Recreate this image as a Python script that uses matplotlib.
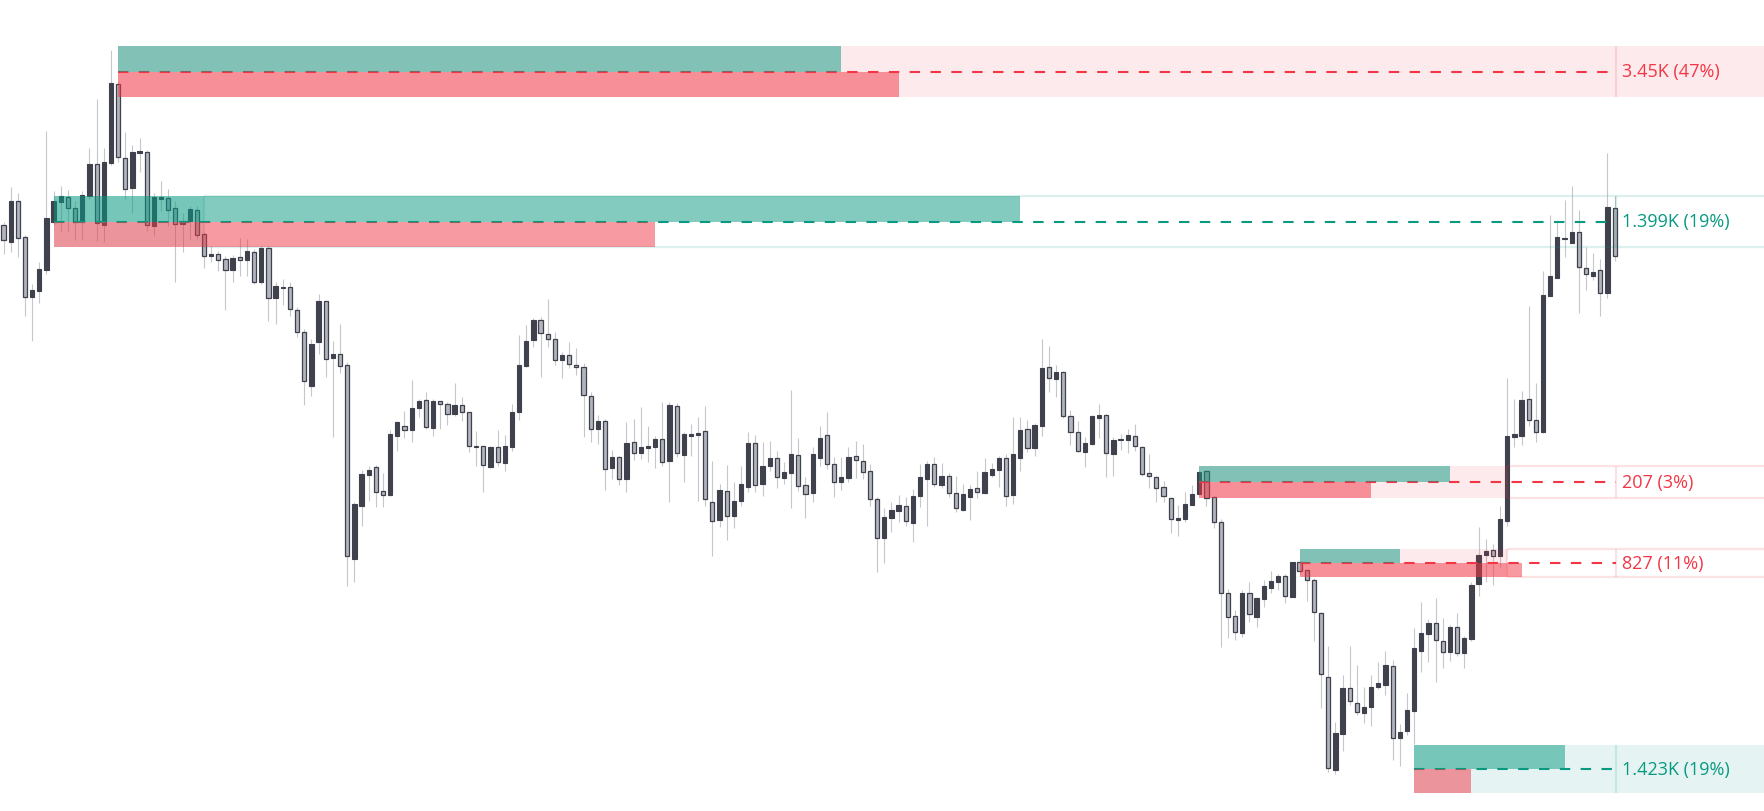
import matplotlib
matplotlib.use("Agg")
import matplotlib.pyplot as plt
from matplotlib.patches import Rectangle
import numpy as np

# candle data (price units)
opens = [586, 569, 610, 574, 514, 520, 541, 589, 609, 614, 603, 589, 615, 647, 586, 648, 727, 653, 623, 658,
         659, 585, 612, 613, 603, 587, 590, 601, 577, 555, 557, 552, 541, 554, 551, 559, 529, 563, 513, 523,
         524, 501, 479, 425, 469, 510, 453, 457, 446, 252, 305, 336, 344, 320, 316, 375, 385, 381, 403, 411,
         383, 410, 407, 397, 406, 399, 364, 365, 344, 364, 348, 364, 399, 445, 471, 491, 477, 472, 451, 456,
         446, 444, 415, 382, 390, 343, 354, 332, 369, 358, 363, 364, 372, 350, 405, 356, 375, 376, 380, 309,
         291, 320, 295, 310, 324, 368, 327, 345, 353, 333, 338, 356, 326, 318, 353, 376, 347, 329, 333, 355,
         350, 340, 312, 273, 293, 300, 305, 288, 315, 332, 347, 326, 335, 318, 301, 314, 323, 318, 336, 341,
         353, 316, 353, 382, 363, 385, 444, 432, 439, 395, 379, 359, 367, 393, 396, 357, 371, 371, 375, 364,
         338, 334, 324, 313, 291, 292, 306, 317, 340, 314, 289, 218, 195, 178, 218, 194, 212, 223, 229, 235,
         214, 249, 241, 231, 198, 134, 41, 77, 123, 108, 98, 104, 124, 126, 145, 73, 80, 100, 160, 177,
         188, 170, 159, 184, 158, 172, 227, 256, 261, 255, 290, 374, 375, 412, 391, 379, 515, 533, 572, 568,
         579, 543, 535, 541, 518, 603]
highs = [589, 624, 618, 576, 527, 549, 680, 620, 625, 621, 610, 620, 663, 712, 663, 761, 729, 679, 666, 673,
         661, 618, 630, 622, 610, 598, 605, 605, 579, 565, 560, 555, 556, 573, 572, 562, 565, 565, 529, 532,
         529, 504, 482, 472, 517, 510, 470, 487, 449, 309, 341, 345, 346, 338, 381, 390, 400, 431, 412, 419,
         412, 410, 409, 428, 414, 399, 380, 365, 365, 381, 376, 407, 476, 486, 493, 494, 512, 479, 459, 469,
         463, 448, 419, 396, 392, 361, 355, 389, 392, 404, 385, 375, 409, 409, 408, 379, 387, 394, 405, 350,
         327, 346, 329, 345, 379, 376, 369, 370, 360, 349, 421, 373, 334, 364, 385, 399, 354, 354, 364, 370,
         367, 347, 314, 303, 309, 316, 314, 322, 347, 350, 354, 348, 338, 335, 327, 326, 340, 353, 348, 355,
         357, 394, 394, 391, 388, 472, 465, 446, 440, 401, 390, 374, 396, 407, 397, 374, 377, 382, 387, 365,
         357, 335, 330, 314, 306, 319, 326, 340, 341, 315, 292, 222, 201, 221, 229, 214, 231, 240, 237, 237,
         249, 249, 242, 233, 199, 165, 89, 136, 165, 146, 124, 136, 149, 160, 151, 87, 118, 183, 209, 192,
         213, 193, 186, 198, 175, 229, 284, 272, 267, 305, 433, 412, 420, 505, 428, 540, 596, 590, 611, 625,
         601, 564, 558, 552, 658, 615]
lows = [557, 559, 554, 495, 470, 508, 537, 586, 580, 580, 571, 572, 612, 570, 569, 646, 649, 612, 598, 639,
        580, 575, 600, 585, 529, 559, 572, 572, 543, 549, 540, 501, 529, 535, 535, 527, 527, 490, 487, 506,
        495, 474, 406, 415, 457, 434, 374, 438, 225, 229, 285, 310, 304, 304, 315, 360, 373, 369, 394, 382,
        375, 382, 386, 395, 390, 359, 345, 319, 343, 345, 340, 360, 391, 444, 464, 434, 464, 446, 433, 443,
        436, 374, 369, 367, 321, 332, 326, 319, 351, 352, 349, 343, 345, 309, 354, 329, 355, 310, 305, 255,
        284, 271, 283, 305, 319, 319, 315, 340, 323, 327, 303, 320, 293, 309, 345, 342, 314, 321, 329, 333,
        332, 305, 239, 248, 279, 289, 285, 269, 304, 285, 324, 323, 314, 299, 300, 291, 313, 317, 334, 324,
        305, 307, 340, 359, 355, 375, 419, 414, 393, 366, 359, 344, 366, 373, 334, 335, 361, 358, 360, 335,
        323, 309, 309, 278, 275, 289, 306, 317, 305, 283, 164, 173, 171, 174, 189, 184, 204, 218, 221, 208,
        214, 237, 210, 170, 103, 39, 37, 60, 106, 96, 88, 85, 122, 116, 51, 45, 76, 67, 139, 149,
        129, 143, 150, 155, 143, 170, 215, 229, 226, 244, 285, 364, 366, 385, 369, 378, 515, 533, 554, 568,
        498, 521, 531, 495, 513, 550]
closes = [571, 610, 573, 514, 521, 542, 593, 610, 615, 603, 589, 616, 647, 588, 649, 728, 654, 622, 659, 660,
          586, 614, 614, 601, 587, 590, 602, 576, 555, 557, 551, 541, 553, 551, 560, 529, 563, 513, 525, 524,
          502, 479, 430, 467, 510, 452, 457, 445, 255, 307, 337, 341, 319, 316, 377, 389, 381, 403, 410, 384,
          410, 407, 397, 406, 399, 365, 365, 346, 364, 349, 365, 399, 446, 470, 491, 478, 472, 451, 456, 447,
          444, 416, 382, 390, 342, 354, 332, 368, 358, 364, 365, 372, 349, 406, 358, 377, 377, 378, 312, 290,
          321, 295, 310, 327, 368, 326, 345, 353, 334, 339, 357, 325, 317, 357, 373, 347, 329, 334, 354, 351,
          339, 312, 273, 294, 301, 306, 290, 315, 334, 347, 327, 335, 318, 303, 317, 322, 319, 339, 342, 353,
          315, 357, 381, 363, 386, 443, 433, 439, 395, 379, 360, 368, 395, 396, 358, 371, 372, 376, 365, 337,
          335, 323, 315, 292, 293, 307, 317, 339, 313, 289, 218, 194, 179, 218, 197, 213, 225, 230, 235, 215,
          249, 240, 231, 199, 137, 43, 78, 123, 110, 99, 104, 124, 128, 146, 73, 79, 101, 163, 178, 188,
          171, 159, 184, 158, 173, 226, 256, 260, 255, 292, 375, 377, 411, 391, 379, 516, 535, 574, 573, 579,
          544, 537, 539, 518, 604, 555]

# liquidity zones
zone_top = [765, 615, 345, 262, 66]
zone_bot = [714, 564, 313, 234, 18]
zone_start = [16, 7, 167, 181, 197]
zone_buy = [101, 135, 35, 14, 21]     # green bar length (bars)
zone_sell = [109, 84, 24, 31, 8]      # red bar length (bars)
zone_broken = [None, 28, 210, 210, None]
zone_color = ["#f23645", "#089981", "#f23645", "#f23645", "#089981"]
zone_text = ["3.45K (47%)", "1.399K (19%)", "207 (3%)", "827 (11%)", "1.423K (19%)"]

GREEN = "#089981"
RED = "#f23645"
UP = "#3f414c"
DOWN = "#b2b5be"
WICK = "#c6c7cc"

plt.rcParams["lines.scale_dashes"] = False

fig = plt.figure(figsize=(17.65, 8.12), dpi=100)
ax = fig.add_axes([0, 0, 1, 1])
ax.set_facecolor("white")

o = np.array(opens, float)
h = np.array(highs, float)
l = np.array(lows, float)
c = np.array(closes, float)
n = len(o)
x = np.arange(n)
xmax = n - 1 + 21
ext_start = n - 1 + 0.15

# wicks
ax.vlines(x, l, h, color=WICK, linewidth=0.8, zorder=1)

# bodies
up = c >= o
body_lo = np.minimum(o, c)
body_h = np.maximum(np.abs(c - o), 1.5)
ax.bar(x[up], body_h[up], bottom=body_lo[up], width=0.6, color=UP,
       edgecolor=UP, linewidth=0.8, zorder=2)
ax.bar(x[~up], body_h[~up], bottom=body_lo[~up], width=0.58, color=DOWN,
       edgecolor=UP, linewidth=0.9, zorder=2)

# zones
for i in range(len(zone_top)):
    top, bot, s, col = zone_top[i], zone_bot[i], zone_start[i], zone_color[i]
    mid = (top + bot) / 2
    brk = zone_broken[i]
    fill_end = brk if brk is not None else xmax
    ax.add_patch(Rectangle((s, bot), fill_end - s, top - bot, facecolor=col,
                           alpha=0.1, linewidth=0, zorder=3))
    if brk is not None:
        ax.hlines([top, bot], brk, xmax, color=col, alpha=0.14, linewidth=1.6, zorder=3)
        ax.vlines(brk, bot, top, color=col, alpha=0.14, linewidth=1.6, zorder=3)
    ax.vlines(ext_start, bot, top, color=col, alpha=0.14, linewidth=1.6, zorder=3)

    ax.plot([s, ext_start], [mid, mid], color=col, linewidth=1.5,
            dashes=(7.5, 7.5), zorder=4)

    ax.add_patch(Rectangle((s, mid), zone_buy[i], top - mid, facecolor=GREEN,
                           alpha=0.5, linewidth=0, zorder=5))
    ax.add_patch(Rectangle((s, bot), zone_sell[i], mid - bot, facecolor=RED,
                           alpha=0.5, linewidth=0, zorder=5))

    ax.text(ext_start + 0.85, mid, zone_text[i], color=col, fontsize=13,
            family=["Open Sans", "DejaVu Sans"], va="center", ha="left", zorder=6)

ax.set_xlim(-0.49, xmax)
ax.set_ylim(0, 812)
ax.axis("off")

fig.savefig("out.png", dpi=100, facecolor="white")
